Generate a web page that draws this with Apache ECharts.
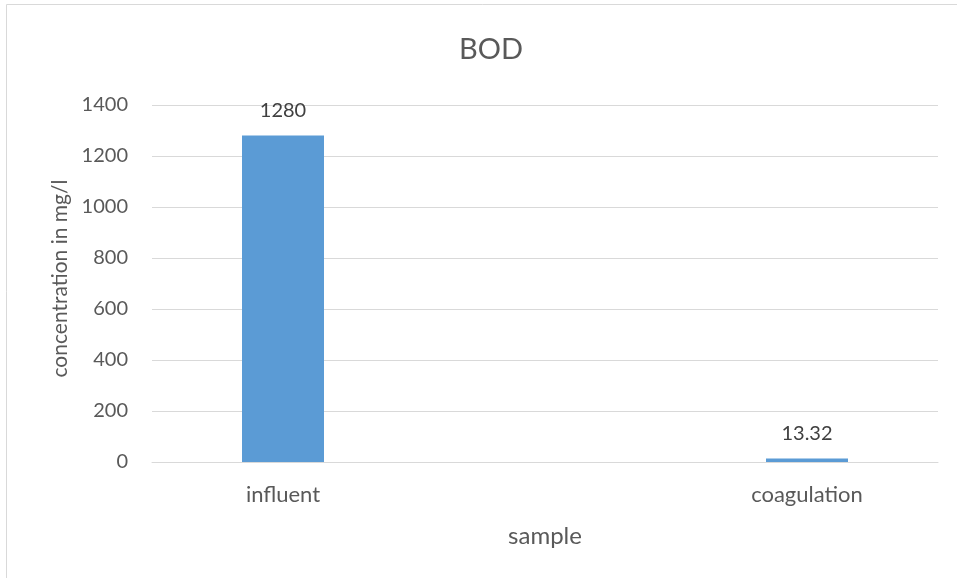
<!DOCTYPE html>
<html>
<head>
<meta charset="utf-8">
<script src="https://cdn.jsdelivr.net/npm/echarts@6/dist/echarts.min.js"></script>
<style>html,body{margin:0;padding:0;background:#fff;}#c{width:957px;height:578px;}</style>
</head>
<body>
<div id="c"></div>
<script>
var categories = ['influent', '', 'coagulation'];
var bodValues = [1280, '-', 13.32];
var yTicks = [0, 200, 400, 600, 800, 1000, 1200, 1400];

var chart = echarts.init(document.getElementById('c'));
var txt = '#595959';
var font = 'Lato, "Open Sans", sans-serif';
chart.setOption({
  animation: false,
  graphic: [{ type: 'rect', shape: { x: 6.5, y: 4.5, width: 1000, height: 1000 }, style: { fill: 'none', stroke: '#d9d9d9', lineWidth: 1 } }],
  title: { text: 'BOD', left: 486, top: 30, textAlign: 'center', textStyle: { color: txt, fontSize: 29, fontWeight: 'normal', fontFamily: font } },
  grid: { left: 152, right: 19, top: 105, bottom: 116 },
  xAxis: {
    type: 'category', data: categories,
    axisLine: { lineStyle: { color: '#d9d9d9' } }, axisTick: { show: false },
    axisLabel: { color: txt, fontSize: 22, fontFamily: font, margin: 22, interval: 0 },
    name: 'sample', nameLocation: 'middle', nameGap: 62,
    nameTextStyle: { color: txt, fontSize: 24, fontFamily: font }
  },
  yAxis: {
    type: 'value', min: yTicks[0], max: yTicks[yTicks.length - 1], interval: 200,
    axisLine: { show: false }, axisTick: { show: false },
    splitLine: { lineStyle: { color: '#d9d9d9' } },
    axisLabel: { color: txt, fontSize: 20, fontFamily: font, margin: 24, formatter: function (v) { return String(v); } },
    name: 'concentration in mg/l', nameLocation: 'middle', nameGap: 80,
    nameTextStyle: { color: txt, fontSize: 21, fontFamily: font, padding: [0, 0, 0, 10] }
  },
  series: [
    { type: 'bar', data: bodValues, barWidth: 82, itemStyle: { color: '#5B9BD5' },
      label: { show: true, position: 'top', distance: 15, color: '#404040', fontSize: 20, fontFamily: font } }
  ]
});
</script>
</body>
</html>
